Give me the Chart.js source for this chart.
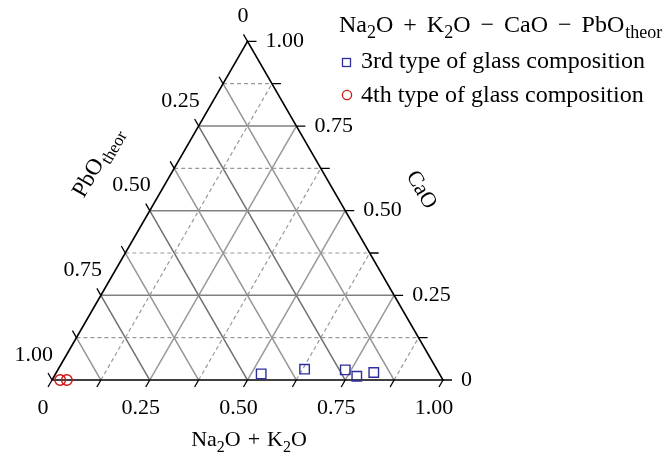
<!DOCTYPE html>
<html>
<head>
<meta charset="utf-8">
<script src="https://cdn.jsdelivr.net/npm/chart.js@4.4.0/dist/chart.umd.min.js"></script>
<style>
html, body { margin: 0; padding: 0; background: #fff; }
#wrap { width: 665px; height: 457px; }
</style>
</head>
<body>
<div id="wrap"><canvas id="ternary"></canvas></div>
<script>
// compositions (fractions, each row sums to 1)
const type3NaK = [0.526, 0.630, 0.735, 0.774, 0.812];
const type3CaO = [0.018, 0.032, 0.030, 0.011, 0.022];
const type3PbO = [0.456, 0.338, 0.235, 0.215, 0.166];
const type4NaK = [0.021, 0.038];
const type4CaO = [0.000, 0.000];
const type4PbO = [0.979, 0.962];

const seriesNames = ['3rd type of glass composition', '4th type of glass composition'];
const tickValues = [0, 0.125, 0.25, 0.375, 0.5, 0.625, 0.75, 0.875, 1];
const labelValues = [0, 0.25, 0.5, 0.75, 1];
const tickLabels = ['0', '0.25', '0.50', '0.75', '1.00'];

const H = Math.sqrt(3) / 2;
const FONT = '"Liberation Serif", "DejaVu Serif", serif';
const BLUE = '#2e2e9c';
const RED = '#cc1616';
const MINUS = '\u2212';

// ternary (Na2O+K2O, CaO) -> cartesian, PbO is the remainder
function toXY(na, ca) {
  return { x: na + ca / 2, y: ca * H };
}

function lineSet(p1, p2, color, dashed, width) {
  return {
    data: [toXY(p1[0], p1[1]), toXY(p2[0], p2[1])],
    showLine: true,
    borderColor: color,
    borderWidth: width || 1.3,
    borderDash: dashed ? [4, 3] : [],
    pointRadius: 0,
    pointHoverRadius: 0,
    order: 3
  };
}

const datasets = [];
tickValues.slice(1, -1).forEach((v, i) => {
  const major = (i % 2 === 1);
  // constant CaO (horizontal)
  datasets.push(lineSet([0, v], [1 - v, v], major ? '#808080' : '#999', !major, major ? 1.5 : 1.2));
  // constant Na2O+K2O (parallel to left edge)
  datasets.push(lineSet([v, 0], [v, 1 - v], major ? '#999' : '#999', !major, major ? 1.5 : 1.2));
  // constant PbO (parallel to right edge), always solid
  datasets.push(lineSet([1 - v, 0], [0, 1 - v], major ? '#707070' : '#959595', false, 1.5));
});

// triangle frame
datasets.push({
  data: [toXY(0, 0), toXY(1, 0), toXY(0, 1), toXY(0, 0)],
  showLine: true,
  borderColor: '#000',
  borderWidth: 1.6,
  pointRadius: 0,
  order: 2
});

datasets.push({
  label: seriesNames[0],
  data: type3NaK.map((na, i) => toXY(na, type3CaO[i])),
  pointStyle: 'rect',
  pointRadius: 6.7,
  pointBorderColor: BLUE,
  pointBackgroundColor: 'rgba(0,0,0,0)',
  pointBorderWidth: 1.4,
  showLine: false,
  order: 0
});
datasets.push({
  label: seriesNames[1],
  data: type4NaK.map((na, i) => toXY(na, type4CaO[i])),
  pointStyle: 'circle',
  pointRadius: 5.3,
  pointBorderColor: RED,
  pointBackgroundColor: 'rgba(0,0,0,0)',
  pointBorderWidth: 1.4,
  showLine: false,
  order: 0
});

// draw text made of normal / subscript pieces; a number is an extra gap
function drawRich(ctx, parts, x, y, size, align) {
  const sub = Math.round(size * 0.74);
  const width = p => {
    if (typeof p === 'number') return p;
    ctx.font = (p[1] ? sub : size) + 'px ' + FONT;
    return ctx.measureText(p[0]).width;
  };
  let total = 0;
  parts.forEach(p => { total += width(p); });
  let cx = align === 'center' ? x - total / 2 : x;
  ctx.textAlign = 'left';
  ctx.textBaseline = 'alphabetic';
  parts.forEach(p => {
    const w = width(p);
    if (typeof p !== 'number') ctx.fillText(p[0], cx, y + (p[1] ? size * 0.25 : 0));
    cx += w;
  });
}

const ternaryAxes = {
  id: 'ternaryAxes',
  afterDatasetsDraw(chart) {
    const ctx = chart.ctx;
    const xs = chart.scales.x, ys = chart.scales.y;
    const px = (na, ca) => {
      const p = toXY(na, ca);
      return [xs.getPixelForValue(p.x), ys.getPixelForValue(p.y)];
    };
    ctx.save();
    ctx.strokeStyle = '#000';
    ctx.lineWidth = 1.3;
    ctx.fillStyle = '#000';

    tickValues.forEach(t => {
      ctx.beginPath();
      // bottom axis: Na2O+K2O
      let [bx, by] = px(t, 0);
      ctx.moveTo(bx, by); ctx.lineTo(bx - 4, by + 7);
      // right axis: CaO
      let [rx, ry] = px(1 - t, t);
      ctx.moveTo(rx, ry); ctx.lineTo(rx + 9, ry);
      // left axis: PbO
      let [lx, ly] = px(0, 1 - t);
      ctx.moveTo(lx, ly); ctx.lineTo(lx - 4, ly - 7);
      ctx.stroke();
    });

    ctx.font = '22px ' + FONT;
    ctx.textBaseline = 'middle';
    labelValues.forEach((t, i) => {
      let [bx, by] = px(t, 0);
      ctx.textAlign = 'center';
      ctx.fillText(tickLabels[i], bx - 9, by + 28);
      let [rx, ry] = px(1 - t, t);
      ctx.textAlign = 'left';
      ctx.fillText(tickLabels[i], rx + 18, ry);
      let [lx, ly] = px(0, 1 - t);
      ctx.textAlign = 'right';
      ctx.fillText(tickLabels[i], lx + 1, ly - 25);
    });

    // axis titles
    drawRich(ctx, [['Na', 0], ['2', 1], ['O', 0], 7, ['+', 0], 7, ['K', 0], ['2', 1], ['O', 0]], 249, 446, 22, 'center');

    ctx.save();
    ctx.translate(97, 162);
    ctx.rotate(-Math.PI / 3);
    drawRich(ctx, [['PbO', 0], 1, ['theor', 1]], 0, 7, 23, 'center');
    ctx.restore();

    ctx.save();
    ctx.translate(421, 190);
    ctx.rotate(Math.PI / 3);
    ctx.font = '22px ' + FONT;
    ctx.textAlign = 'center';
    ctx.textBaseline = 'middle';
    ctx.fillText('CaO', 0, 0);
    ctx.restore();

    // legend
    drawRich(ctx, [['Na', 0], ['2', 1], ['O', 0], 10, ['+', 0], 10, ['K', 0], ['2', 1], ['O', 0],
      10, [MINUS, 0], 10, ['CaO', 0], 10, [MINUS, 0], 10, ['PbO', 0], 1, ['theor', 1]], 339, 32, 24, 'left');
    ctx.lineWidth = 1.3;
    ctx.strokeStyle = BLUE;
    ctx.strokeRect(342.5, 58.5, 8, 8);
    ctx.strokeStyle = RED;
    ctx.beginPath();
    ctx.arc(347, 95, 4.6, 0, Math.PI * 2);
    ctx.stroke();
    ctx.fillStyle = '#000';
    ctx.font = '24px ' + FONT;
    ctx.textAlign = 'left';
    ctx.textBaseline = 'middle';
    ctx.fillText(seriesNames[0], 361, 62);
    ctx.fillText(seriesNames[1], 361, 96);
    ctx.restore();
  }
};

new Chart(document.getElementById('ternary'), {
  type: 'scatter',
  data: { datasets: datasets },
  options: {
    responsive: true,
    maintainAspectRatio: false,
    animation: false,
    layout: { padding: 0, autoPadding: false },
    plugins: { legend: { display: false }, tooltip: { enabled: false } },
    scales: {
      x: { type: 'linear', display: false, min: -52 / 391, max: (665 - 52) / 391 },
      y: { type: 'linear', display: false, min: -77 / 391, max: 380 / 391 }
    }
  },
  plugins: [ternaryAxes]
});
</script>
</body>
</html>
